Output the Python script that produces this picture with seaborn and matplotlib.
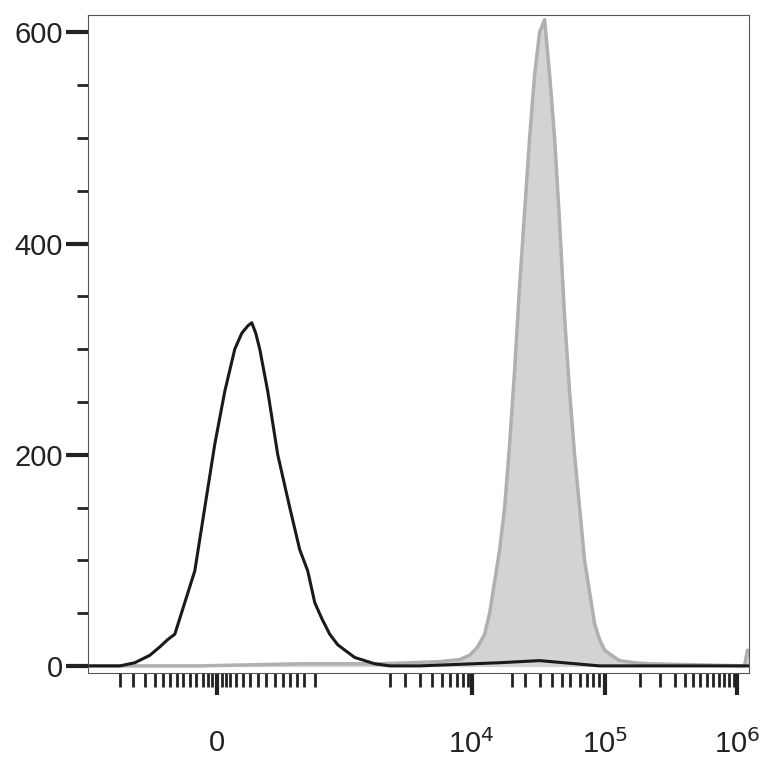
import matplotlib
matplotlib.use("Agg")
import matplotlib.pyplot as plt
import seaborn as sns
import pandas as pd

# channel positions (display scale) and counts
black_x = [90,120,135,150,160,168,175,185,195,205,215,225,235,242,248,252,256,260,268,278,290,300,308,315,322,330,338,345,355,365,375,390,420,500,540,600,700,750]
black_y = [0,0,3,10,18,25,30,60,90,150,210,260,300,315,322,325,315,300,260,200,150,110,90,60,45,30,20,15,8,5,2,0,0,3,5,0,0,0]
gray_x = [90,200,300,380,440,460,470,478,485,490,495,500,505,510,515,520,525,530,535,540,545,550,555,560,565,570,575,580,585,590,595,600,605,612,620,635,650,700,745,748,750]
gray_y = [0,0,2,2,4,6,10,18,30,50,80,110,150,210,280,360,430,500,560,600,612,560,500,420,330,260,200,150,100,70,40,25,15,10,5,3,2,1,0,15,10]

df_b = pd.DataFrame({"x": black_x, "y": black_y})
df_g = pd.DataFrame({"x": gray_x, "y": gray_y})

sns.set_style("white")
plt.rcParams["font.family"] = ["Liberation Sans", "DejaVu Sans"]
fig = plt.figure(figsize=(7.64, 7.73), dpi=100)
ax = fig.add_axes([0.115, 0.129, 0.866, 0.851])
ax.fill_between(df_g["x"], df_g["y"], color="#d3d3d3", zorder=1)
sns.lineplot(data=df_g, x="x", y="y", color="#b0b0b0", lw=2.5, ax=ax, zorder=2)
sns.lineplot(data=df_b, x="x", y="y", color="#1a1a1a", lw=2.2, ax=ax, zorder=3)

ax.set_xlim(88, 750)
ax.set_ylim(-7, 616)
ax.set_xlabel("")
ax.set_ylabel("")
for s in ax.spines.values():
    s.set_color("#555555")
    s.set_linewidth(0.8)

ax.set_yticks([0, 200, 400, 600])
ax.set_yticklabels(["0", "200", "400", "600"], fontsize=21, color="#222222")
ax.set_yticks([50,100,150,250,300,350,450,500,550], minor=True)
ax.tick_params(axis="y", which="both", left=True)
ax.tick_params(axis="y", which="major", length=16, width=3, direction="out", color="#222222", pad=2)
ax.tick_params(axis="y", which="minor", length=8, width=2, direction="out", color="#222222")

ax.set_xticks([217, 472, 605, 738])
ax.set_xticklabels(["0", "10$^4$", "10$^5$", "10$^6$"], fontsize=21, color="#222222")
minor = [120,133,145,155,163,170,177,183,190,196,203,208,212,222,226,230,236,243,250,258,266,275,283,290,297,304,315,
         390,405,420,432,442,450,457,463,468,512,525,540,552,562,570,580,587,593,599,640,660,675,685,693,700,707,713,719,725,730,735]
ax.set_xticks(minor, minor=True)
ax.tick_params(axis="x", which="both", bottom=True)
ax.tick_params(axis="x", which="major", length=16, width=3, direction="out", color="#222222", pad=24)
ax.tick_params(axis="x", which="minor", length=10, width=2, direction="out", color="#222222")

fig.savefig("out.png", dpi=100)
